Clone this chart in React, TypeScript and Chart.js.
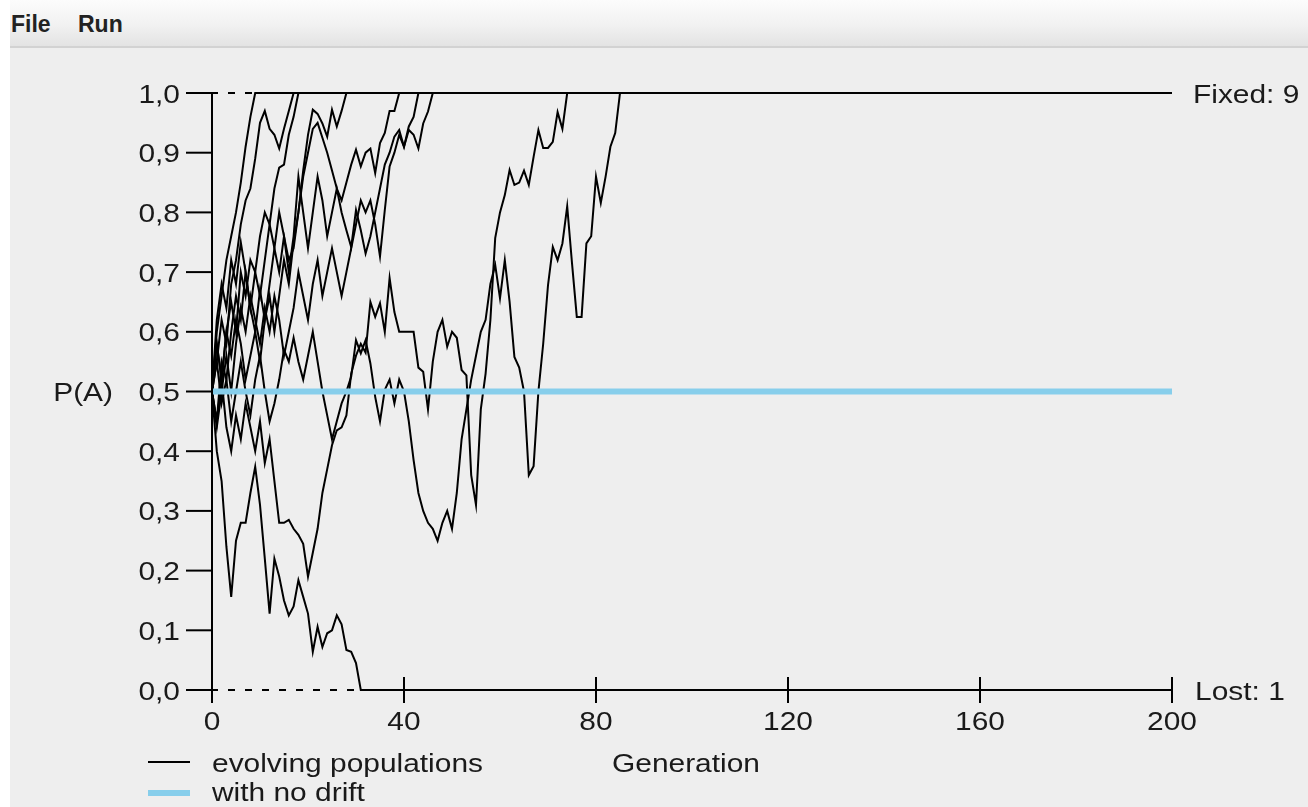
import React, { useEffect, useRef } from 'react';
import { Chart, registerables } from 'chart.js';

Chart.register(...registerables);

// ---------- axis / labels ----------
const X_MIN = 0;
const X_MAX = 200;
const X_TICKS = [0, 40, 80, 120, 160, 200];
const Y_TICKS = [0, 0.1, 0.2, 0.3, 0.4, 0.5, 0.6, 0.7, 0.8, 0.9, 1.0];
const Y_TICK_LABELS = ['0,0', '0,1', '0,2', '0,3', '0,4', '0,5', '0,6', '0,7', '0,8', '0,9', '1,0'];
const X_TITLE = 'Generation';
const Y_TITLE = 'P(A)';
const LEGEND_LABELS = ['evolving populations', 'with no drift'];
const FIXED_LABEL = 'Fixed: 9';
const LOST_LABEL = 'Lost: 1';
const MENU_ITEMS = ['File', 'Run'];
const NO_DRIFT_VALUE = 0.5;

// ---------- series: allele frequency per generation (from generation 0) ----------
const popFixed9 = [0.5, 0.6, 0.66, 0.72, 0.76, 0.8, 0.85, 0.91, 0.96, 1.0];
const popFixed17 = [0.5, 0.55, 0.62, 0.58, 0.68, 0.72, 0.78, 0.82, 0.84, 0.89, 0.95, 0.97, 0.94, 0.93, 0.907, 0.94, 0.97, 1.0];
const popFixed18 = [0.5, 0.58, 0.52, 0.6, 0.65, 0.6, 0.7, 0.66, 0.72, 0.7, 0.76, 0.8, 0.78, 0.84, 0.875, 0.88, 0.93, 0.96, 1.0];
const popFixed28 = [0.5, 0.45, 0.55, 0.52, 0.6, 0.66, 0.62, 0.7, 0.64, 0.6, 0.67, 0.62, 0.68, 0.74, 0.7, 0.76, 0.72, 0.74, 0.8, 0.87, 0.93, 0.972, 0.965, 0.949, 0.927, 0.972, 0.944, 0.97, 1.0];
const popFixed39 = [0.5, 0.58, 0.52, 0.6, 0.56, 0.62, 0.58, 0.52, 0.56, 0.6, 0.55, 0.62, 0.66, 0.6, 0.66, 0.72, 0.68, 0.75, 0.8, 0.86, 0.9, 0.94, 0.95, 0.925, 0.9, 0.87, 0.84, 0.82, 0.85, 0.88, 0.905, 0.877, 0.9, 0.907, 0.866, 0.916, 0.933, 0.97, 0.97, 1.0];
const popFixed43 = [0.5, 0.62, 0.68, 0.64, 0.72, 0.68, 0.75, 0.7, 0.64, 0.7, 0.66, 0.72, 0.78, 0.74, 0.8, 0.76, 0.7, 0.76, 0.86, 0.8, 0.74, 0.8, 0.86, 0.82, 0.76, 0.8, 0.84, 0.8, 0.77, 0.742, 0.804, 0.77, 0.731, 0.76, 0.8, 0.84, 0.88, 0.9, 0.927, 0.938, 0.91, 0.944, 0.96, 1.0];
const popFixed46 = [0.5, 0.44, 0.5, 0.56, 0.5, 0.58, 0.64, 0.6, 0.66, 0.62, 0.58, 0.64, 0.6, 0.66, 0.62, 0.56, 0.6, 0.64, 0.7, 0.66, 0.62, 0.68, 0.72, 0.66, 0.7, 0.74, 0.7, 0.66, 0.7, 0.74, 0.78, 0.82, 0.8, 0.82, 0.78, 0.726, 0.804, 0.877, 0.9, 0.93, 0.91, 0.938, 0.93, 0.907, 0.949, 0.969, 1.0];
const popFixed74 = [0.5, 0.45, 0.52, 0.44, 0.4, 0.46, 0.42, 0.48, 0.44, 0.4, 0.45, 0.38, 0.42, 0.35, 0.28, 0.28, 0.285, 0.27, 0.26, 0.245, 0.19, 0.23, 0.27, 0.33, 0.37, 0.41, 0.435, 0.44, 0.46, 0.53, 0.56, 0.58, 0.565, 0.65, 0.625, 0.648, 0.6, 0.69, 0.633, 0.6, 0.6, 0.6, 0.6, 0.54, 0.533, 0.47, 0.55, 0.6, 0.62, 0.575, 0.6, 0.59, 0.536, 0.527, 0.36, 0.31, 0.47, 0.53, 0.62, 0.757, 0.8, 0.829, 0.871, 0.846, 0.85, 0.87, 0.846, 0.893, 0.938, 0.908, 0.908, 0.918, 0.968, 0.94, 1.0];
const popFixed85 = [0.5, 0.55, 0.48, 0.52, 0.45, 0.5, 0.55, 0.5, 0.46, 0.52, 0.56, 0.5, 0.45, 0.48, 0.52, 0.57, 0.55, 0.59, 0.55, 0.52, 0.56, 0.6, 0.55, 0.5, 0.46, 0.42, 0.45, 0.48, 0.5, 0.525, 0.586, 0.564, 0.586, 0.547, 0.491, 0.45, 0.503, 0.52, 0.48, 0.52, 0.5, 0.45, 0.385, 0.33, 0.3, 0.28, 0.27, 0.25, 0.28, 0.3, 0.27, 0.33, 0.42, 0.47, 0.52, 0.56, 0.6, 0.62, 0.68, 0.712, 0.656, 0.72, 0.65, 0.558, 0.54, 0.5, 0.36, 0.375, 0.5, 0.58, 0.678, 0.742, 0.72, 0.748, 0.81, 0.715, 0.625, 0.625, 0.748, 0.76, 0.86, 0.816, 0.86, 0.91, 0.933, 1.0];
const popLost31 = [0.5, 0.4, 0.35, 0.24, 0.156, 0.25, 0.28, 0.28, 0.33, 0.374, 0.31, 0.22, 0.128, 0.22, 0.19, 0.15, 0.125, 0.14, 0.184, 0.156, 0.128, 0.064, 0.106, 0.072, 0.095, 0.1, 0.125, 0.11, 0.067, 0.064, 0.045, 0.0];

const POPULATIONS = [popFixed9, popFixed17, popFixed18, popFixed28, popFixed39, popFixed43, popFixed46, popFixed74, popFixed85, popLost31];

// ---------- styling ----------
const PANEL_BG = '#eeeeee';
const LINE_COLOR = '#000000';
const NO_DRIFT_COLOR = '#87ceeb';
const TEXT_FONT = '26px "Liberation Sans", Arial, sans-serif';
const TEXT_STRETCH = 1.15;

// population stays absorbed (0 or 1) until the last generation
function toPoints(values: number[]) {
  const pts = values.map((v, i) => ({ x: i, y: v }));
  pts.push({ x: X_MAX, y: values[values.length - 1] });
  return pts;
}

function drawText(ctx: CanvasRenderingContext2D, s: string, x: number, baseline: number, align: 'left' | 'right' | 'center') {
  ctx.save();
  ctx.font = TEXT_FONT;
  ctx.fillStyle = '#1a1a1a';
  ctx.textAlign = 'left';
  ctx.textBaseline = 'alphabetic';
  const w = ctx.measureText(s).width * TEXT_STRETCH;
  const x0 = align === 'left' ? x : align === 'right' ? x - w : x - w / 2;
  ctx.translate(x0, baseline);
  ctx.scale(TEXT_STRETCH, 1);
  ctx.fillText(s, 0, 0);
  ctx.restore();
}

function line(ctx: CanvasRenderingContext2D, x1: number, y1: number, x2: number, y2: number) {
  ctx.beginPath();
  ctx.moveTo(x1, y1);
  ctx.lineTo(x2, y2);
  ctx.stroke();
}

const decorPlugin = {
  id: 'driftDecor',
  beforeDatasetsDraw(chart: any) {
    const { ctx, scales } = chart;
    const xs = scales.x;
    const ys = scales.y;
    ctx.save();
    ctx.strokeStyle = LINE_COLOR;
    ctx.lineWidth = 2;
    ctx.setLineDash([7, 10]);
    [1, 0].forEach((v) => {
      const y = ys.getPixelForValue(v);
      line(ctx, xs.getPixelForValue(X_MIN) - 1, y, xs.getPixelForValue(X_MAX), y);
    });
    ctx.restore();
  },
  afterDatasetsDraw(chart: any) {
    const { ctx, scales } = chart;
    const xs = scales.x;
    const ys = scales.y;
    const x0 = xs.getPixelForValue(X_MIN);
    const x1 = xs.getPixelForValue(X_MAX);
    const y0 = ys.getPixelForValue(0);
    const yTop = ys.getPixelForValue(1);
    ctx.save();
    ctx.strokeStyle = LINE_COLOR;
    ctx.lineWidth = 2;
    ctx.setLineDash([]);
    // y axis
    line(ctx, x0, yTop - 1, x0, y0 + 1);
    // y ticks + labels
    Y_TICKS.forEach((v, i) => {
      const y = ys.getPixelForValue(v);
      line(ctx, x0 - 26, y, x0, y);
      drawText(ctx, Y_TICK_LABELS[i], x0 - 32, y + 9.5, 'right');
    });
    // x ticks + labels
    X_TICKS.forEach((v) => {
      const x = xs.getPixelForValue(v);
      line(ctx, x, y0 - 13, x, y0 + 13);
      drawText(ctx, String(v), x, y0 + 40, 'center');
    });
    // titles
    drawText(ctx, Y_TITLE, x0 - 99, ys.getPixelForValue(NO_DRIFT_VALUE) + 9, 'right');
    drawText(ctx, X_TITLE, x0 + 400, y0 + 82, 'left');
    // fixed / lost counts
    drawText(ctx, FIXED_LABEL, x1 + 21, yTop + 9.5, 'left');
    drawText(ctx, LOST_LABEL, x1 + 23, y0 + 9.5, 'left');
    // legend
    ctx.strokeStyle = LINE_COLOR;
    ctx.lineWidth = 2;
    line(ctx, x0 - 64, y0 + 72, x0 - 22, y0 + 72);
    ctx.strokeStyle = NO_DRIFT_COLOR;
    ctx.lineWidth = 6;
    line(ctx, x0 - 64, y0 + 103, x0 - 22, y0 + 103);
    drawText(ctx, LEGEND_LABELS[0], x0, y0 + 82, 'left');
    drawText(ctx, LEGEND_LABELS[1], x0, y0 + 111, 'left');
    ctx.restore();
  },
};

export default function App() {
  const canvasRef = useRef<HTMLCanvasElement>(null);

  useEffect(() => {
    const canvas = canvasRef.current;
    if (!canvas) return;
    const datasets: any[] = [
      {
        label: LEGEND_LABELS[1],
        data: [
          { x: X_MIN, y: NO_DRIFT_VALUE },
          { x: X_MAX, y: NO_DRIFT_VALUE },
        ],
        borderColor: NO_DRIFT_COLOR,
        borderWidth: 6,
        pointRadius: 0,
        fill: false,
        clip: false,
        order: 0,
      },
      ...POPULATIONS.map((p, i) => ({
        label: LEGEND_LABELS[0] + ' ' + (i + 1),
        data: toPoints(p),
        borderColor: LINE_COLOR,
        borderWidth: 2,
        pointRadius: 0,
        fill: false,
        clip: false,
        tension: 0,
        order: 1,
      })),
    ];
    const chart = new Chart(canvas, {
      type: 'line',
      data: { datasets },
      options: {
        responsive: false,
        animation: false,
        devicePixelRatio: 1,
        events: [],
        layout: { padding: { left: 202, top: 45, right: 136, bottom: 117 } },
        plugins: {
          legend: { display: false },
          tooltip: { enabled: false },
          title: { display: false },
        },
        scales: {
          x: { type: 'linear', min: X_MIN, max: X_MAX, display: false },
          y: { type: 'linear', min: 0, max: 1, display: false },
        },
        elements: { point: { radius: 0 }, line: { tension: 0 } },
      } as any,
      plugins: [decorPlugin],
    });
    return () => chart.destroy();
  }, []);

  return (
    <div
      style={{
        position: 'fixed',
        left: 10,
        top: 0,
        width: 1298,
        height: 807,
        overflow: 'hidden',
        background: PANEL_BG,
      }}
    >
      <div
        style={{
          position: 'absolute',
          left: 0,
          top: 0,
          width: 1298,
          height: 46,
          background: 'linear-gradient(to bottom, #fcfcfc 0%, #f1f1f1 55%, #e3e3e3 100%)',
          borderBottom: '2px solid #d2d2d2',
          font: 'bold 23px "Liberation Sans", Arial, sans-serif',
          color: '#222222',
          lineHeight: '46px',
        }}
      >
        <span style={{ position: 'absolute', left: 1, top: 1 }}>{MENU_ITEMS[0]}</span>
        <span style={{ position: 'absolute', left: 68, top: 1 }}>{MENU_ITEMS[1]}</span>
      </div>
      <canvas
        ref={canvasRef}
        width={1298}
        height={759}
        style={{ position: 'absolute', left: 0, top: 48, width: 1298, height: 759 }}
      />
    </div>
  );
}
